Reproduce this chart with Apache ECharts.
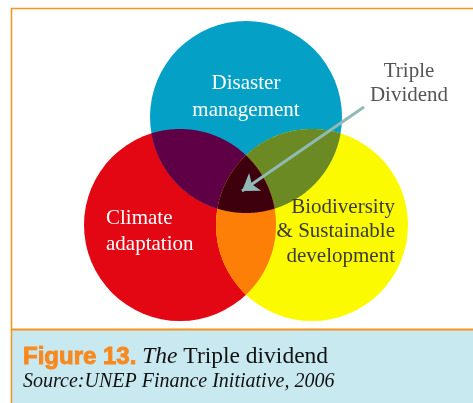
<!DOCTYPE html>
<html>
<head>
<meta charset="utf-8">
<script src="https://cdn.jsdelivr.net/npm/echarts@6/dist/echarts.min.js"></script>
<style>
  html, body { margin: 0; padding: 0; background: #fff; }
  #chart { width: 473px; height: 403px; }
</style>
</head>
<body>
<div id="chart"></div>
<script>
// circles, in units of one radius; 0,0 is the middle of the diagram
const setNames = ['Climate\nadaptation', 'Disaster\nmanagement', 'Biodiversity\n& Sustainable\ndevelopment'];
const centerX = [-0.6875, 0, 0.6875];
const centerY = [-0.5625, 0.5625, -0.5625];
const radius = [1, 1, 1];
const setColors = ['#e30613', '#05a0c6', '#fcfa00'];

// overlaps drawn on top of the circles
const overlapSets = [[0, 1], [1, 2], [0, 2], [0, 1, 2]];
const overlapColors = ['#5f0046', '#6b8a24', '#fe7f07', '#3e000d'];

// annotation arrow, from the label to the centre
const arrowFrom = [1.229, 0.667];
const arrowTo = [-0.042, -0.208];

const chart = echarts.init(document.getElementById('chart'), null, { renderer: 'canvas' });

function pixelCircle(api, i) {
  const c = api.coord([centerX[i], centerY[i]]);
  const r = api.size([radius[i], radius[i]])[0];
  return { x: c[0], y: c[1], r: r };
}

function renderCircle(params, api) {
  const c = pixelCircle(api, params.dataIndex);
  return {
    type: 'circle',
    shape: { cx: c.x, cy: c.y, r: c.r },
    style: { fill: setColors[params.dataIndex] }
  };
}

// outline of the area that lies inside every circle of the set
function renderOverlap(params, api) {
  const circles = overlapSets[params.dataIndex].map(i => pixelCircle(api, i));
  const pts = [];
  circles.forEach((c, k) => {
    for (let s = 0; s < 1440; s++) {
      const a = s / 1440 * Math.PI * 2;
      const x = c.x + c.r * Math.cos(a);
      const y = c.y + c.r * Math.sin(a);
      const inside = circles.every((o, m) => m === k || Math.hypot(x - o.x, y - o.y) <= o.r + 0.01);
      if (inside) pts.push([x, y]);
    }
  });
  const mx = pts.reduce((acc, p) => acc + p[0], 0) / pts.length;
  const my = pts.reduce((acc, p) => acc + p[1], 0) / pts.length;
  pts.sort((p, q) => Math.atan2(p[1] - my, p[0] - mx) - Math.atan2(q[1] - my, q[0] - mx));
  return {
    type: 'polygon',
    shape: { points: pts },
    style: { fill: overlapColors[params.dataIndex] }
  };
}

const serif = '"Liberation Serif", "DejaVu Serif", serif';

const option = {
  animation: false,
  grid: { left: 54, top: 27, width: 384, height: 288 },
  xAxis: { type: 'value', min: -2, max: 2, show: false },
  yAxis: { type: 'value', min: -1.5, max: 1.5, show: false },
  graphic: [
    {
      type: 'rect', z: -10,
      shape: { x: 11, y: 330, width: 470, height: 80 },
      style: { fill: '#c9e9f1' }
    },
    {
      type: 'polyline', z: 100,
      shape: { points: [[11.5, 410], [11.5, 8.5], [480, 8.5]] },
      style: { stroke: '#f7941d', lineWidth: 1.5, fill: null }
    },
    {
      type: 'line', z: 100,
      shape: { x1: 11, y1: 329.5, x2: 480, y2: 329.5 },
      style: { stroke: '#f7941d', lineWidth: 2 }
    },
    {
      type: 'text', z: 100,
      position: [246, 70],
      style: {
        text: setNames[1], fill: '#fff', font: '21px ' + serif,
        align: 'center', lineHeight: 27
      }
    },
    {
      type: 'text', z: 100,
      position: [106, 205],
      style: {
        text: setNames[0], fill: '#fff', font: '21px ' + serif,
        align: 'left', lineHeight: 26
      }
    },
    {
      type: 'text', z: 100,
      position: [395, 195],
      style: {
        text: setNames[2], fill: '#3a3a3a', font: '21px ' + serif,
        align: 'right', lineHeight: 24.5
      }
    },
    {
      type: 'text', z: 100,
      position: [409, 59],
      style: {
        text: 'Triple\nDividend', fill: '#555', font: '21px ' + serif,
        align: 'center', lineHeight: 24
      }
    },
    {
      type: 'text', z: 100,
      position: [23, 345],
      style: {
        text: '{fig|Figure 13.} {it|The} Triple dividend',
        font: '23.5px ' + serif, fill: '#111',
        rich: {
          fig: {
            font: 'bold 24px "Liberation Sans", Arial, sans-serif', fill: '#f7891f',
            stroke: '#f7891f', lineWidth: 0.9
          },
          it: { font: 'italic 23.5px ' + serif, fill: '#111' }
        }
      }
    },
    {
      type: 'text', z: 100,
      position: [23, 372],
      style: {
        text: 'Source:UNEP Finance Initiative, 2006',
        font: 'italic 20px ' + serif, fill: '#111'
      }
    }
  ],
  series: [
    {
      type: 'custom',
      name: 'sets',
      renderItem: renderCircle,
      data: centerX.map((x, i) => [x, centerY[i]]),
      z: 1
    },
    {
      type: 'custom',
      name: 'overlaps',
      renderItem: renderOverlap,
      data: overlapSets.map(s => [
        s.reduce((acc, i) => acc + centerX[i], 0) / s.length,
        s.reduce((acc, i) => acc + centerY[i], 0) / s.length
      ]),
      z: 2
    },
    {
      type: 'lines',
      coordinateSystem: 'cartesian2d',
      z: 3,
      symbol: ['none', 'arrow'],
      symbolSize: 16,
      lineStyle: { color: '#8fbab6', width: 3, opacity: 1 },
      data: [{ coords: [arrowFrom, arrowTo] }]
    }
  ]
};

chart.setOption(option);
</script>
</body>
</html>
